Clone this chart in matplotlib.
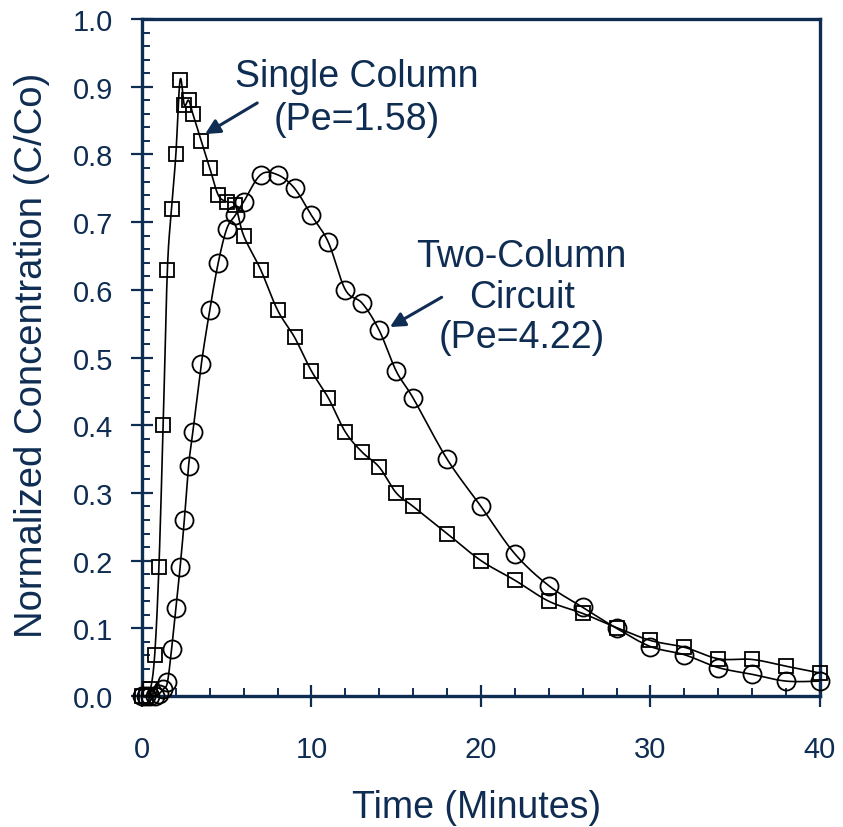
import numpy as np
import matplotlib
matplotlib.use("Agg")
import matplotlib.pyplot as plt

plt.rcParams['font.family'] = ['Liberation Sans', 'DejaVu Sans']

navy = '#0F2D52'

# Single column (squares)
t_single = [0, 0.25, 0.5, 0.75, 1.0, 1.25, 1.5, 1.75, 2.0, 2.25, 2.5, 2.75, 3.0,
            3.5, 4, 4.5, 5, 5.5, 6, 7, 8, 9, 10, 11, 12, 13, 14, 15, 16, 18,
            20, 22, 24, 26, 28, 30, 32, 34, 36, 38, 40]
c_single = [0.0, 0.0, 0.01, 0.06, 0.19, 0.40, 0.63, 0.72, 0.80, 0.91, 0.873, 0.88, 0.86,
            0.82, 0.78, 0.74, 0.73, 0.725, 0.68, 0.63, 0.57, 0.53, 0.48, 0.44, 0.39, 0.36, 0.338, 0.30, 0.28, 0.24,
            0.20, 0.171, 0.14, 0.122, 0.101, 0.082, 0.072, 0.055, 0.054, 0.044, 0.034]

# Two-column circuit (circles)
t_two = [0, 0.25, 0.5, 0.75, 1.0, 1.25, 1.5, 1.75, 2.0, 2.25, 2.5, 2.75, 3.0,
         3.5, 4, 4.5, 5, 5.5, 6, 7, 8, 9, 10, 11, 12, 13, 14, 15, 16, 18,
         20, 22, 24, 26, 28, 30, 32, 34, 36, 38, 40]
c_two = [0.0, 0.0, 0.0, 0.0, 0.003, 0.01, 0.02, 0.07, 0.13, 0.19, 0.26, 0.34, 0.39,
         0.49, 0.57, 0.64, 0.69, 0.71, 0.73, 0.77, 0.77, 0.75, 0.71, 0.67, 0.60, 0.58, 0.54, 0.48, 0.44, 0.35,
         0.28, 0.21, 0.163, 0.131, 0.10, 0.073, 0.061, 0.042, 0.032, 0.022, 0.022]

x_ticks = [0, 10, 20, 30, 40]
y_ticks = [0.0, 0.1, 0.2, 0.3, 0.4, 0.5, 0.6, 0.7, 0.8, 0.9, 1.0]


def smooth(xs, ys, sx=16.95, sy=677.0, n=20):
    # Excel-like smoothed line: cubic bezier with catmull-rom control points
    p = np.column_stack([np.asarray(xs) * sx, np.asarray(ys) * sy])
    out = []
    for i in range(len(p) - 1):
        p0 = p[i - 1] if i > 0 else p[i]
        p1 = p[i]
        p2 = p[i + 1]
        p3 = p[i + 2] if i + 2 < len(p) else p[i + 1]
        c1 = p1 + (p2 - p0) / 6.0
        c2 = p2 - (p3 - p1) / 6.0
        s = np.linspace(0, 1, n)[:, None]
        seg = (1 - s) ** 3 * p1 + 3 * (1 - s) ** 2 * s * c1 + 3 * (1 - s) * s ** 2 * c2 + s ** 3 * p2
        out.append(seg)
    out = np.vstack(out)
    return out[:, 0] / sx, out[:, 1] / sy


fig = plt.figure(figsize=(8.43, 8.28), dpi=100)
ax = fig.add_axes([0.1684, 0.1582, 0.8043, 0.8176])

sx_, sy_ = smooth(t_single, c_single)
ax.plot(sx_, sy_, color='black', lw=1.2, zorder=2)
ax.plot(t_single, c_single, ls='none', marker='s', ms=10, mfc='none', mec='black', mew=1.3,
        zorder=3, clip_on=False)

tx_, ty_ = smooth(t_two, c_two)
ax.plot(tx_, ty_, color='black', lw=1.2, zorder=2)
ax.plot(t_two, c_two, ls='none', marker='o', ms=13, mfc='none', mec='black', mew=1.3,
        zorder=3, clip_on=False)

ax.set_xlim(0, 40)
ax.set_ylim(0, 1.0)
ax.set_xticks(x_ticks)
ax.set_yticks(y_ticks)
ax.set_yticklabels(['%.1f' % v for v in y_ticks])
ax.set_xticks(np.arange(0, 41, 2), minor=True)
ax.set_yticks(np.arange(0, 1.001, 0.02), minor=True)

for s in ax.spines.values():
    s.set_color(navy)
    s.set_linewidth(2.4)

ax.tick_params(which='major', direction='inout', length=16, width=1.6, color=navy,
               labelsize=21, labelcolor=navy)
ax.tick_params(which='minor', direction='in', length=5.5, width=1.4, color=navy)
ax.tick_params(axis='y', which='major', pad=13)
ax.tick_params(axis='x', which='major', pad=20)

ax.set_xlabel('Time (Minutes)', fontsize=27, color=navy)
ax.set_ylabel('Normalized Concentration (C/Co)', fontsize=27.5, color=navy)
ax.xaxis.set_label_coords(0.493, -0.137)
ax.yaxis.set_label_coords(-0.135, 0.504)

ax.annotate('', xy=(3.72, 0.83), xytext=(6.8, 0.876),
            arrowprops=dict(arrowstyle='-|>', color=navy, lw=2.2, mutation_scale=22,
                            shrinkA=0, shrinkB=0))
ax.text(12.65, 0.884, 'Single Column\n(Pe=1.58)', fontsize=27, color=navy,
        ha='center', va='center', linespacing=1.25)

ax.annotate('', xy=(14.63, 0.545), xytext=(17.68, 0.589),
            arrowprops=dict(arrowstyle='-|>', color=navy, lw=2.2, mutation_scale=22,
                            shrinkA=0, shrinkB=0))
ax.text(22.4, 0.59, 'Two-Column\nCircuit\n(Pe=4.22)', fontsize=27, color=navy,
        ha='center', va='center', linespacing=1.15)

fig.savefig('out.png', dpi=100)
